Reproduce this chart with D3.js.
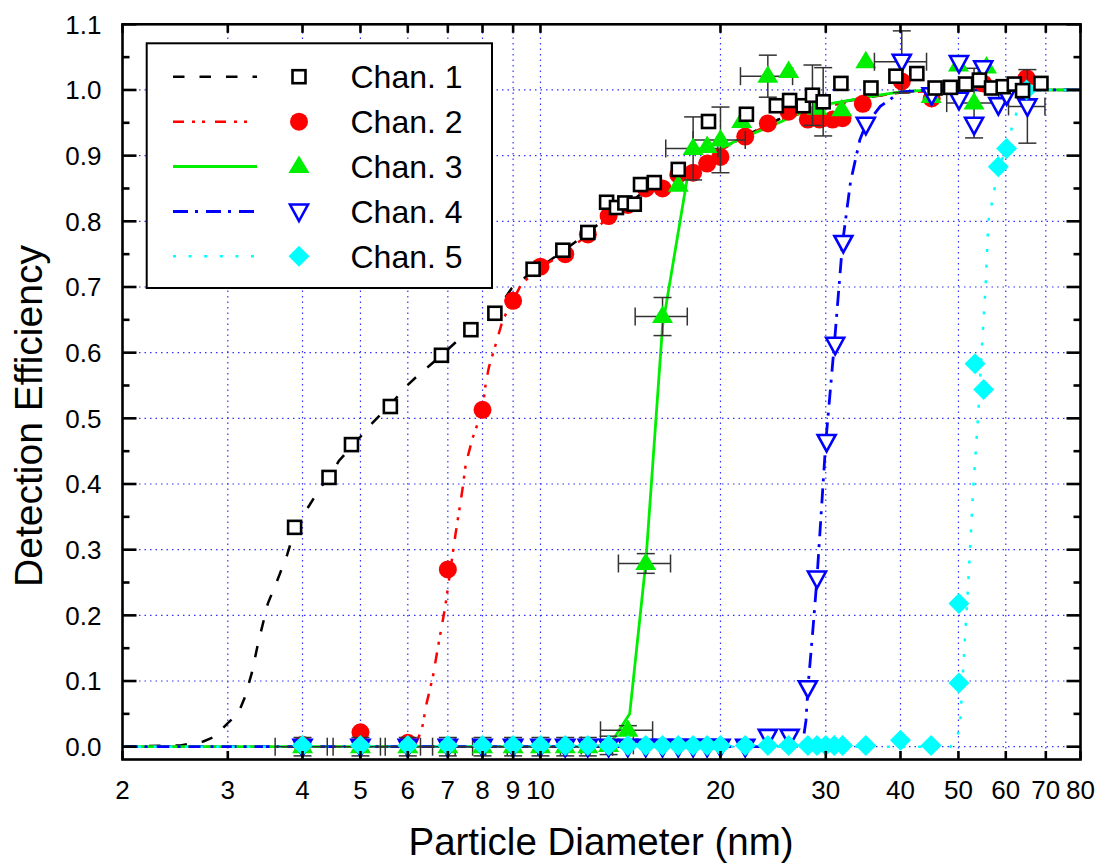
<!DOCTYPE html>
<html><head><meta charset="utf-8">
<script src="https://cdn.jsdelivr.net/npm/d3@7"></script>
<style>body{margin:0;background:#fff} svg{display:block} text{font-family:"Liberation Sans",Arial,sans-serif;fill:#000}</style>
</head><body><svg id="c" width="1099" height="865"></svg>
<script>
// ---------- data ----------
const xTickVals = [2,3,4,5,6,7,8,9,10,20,30,40,50,60,70,80];
const xGridVals = [3,4,5,6,7,8,9,10,20,30,40,50,60,70];
const yTickVals = [0,0.1,0.2,0.3,0.4,0.5,0.6,0.7,0.8,0.9,1.0,1.1];
const legendLabels = ["Chan. 1","Chan. 2","Chan. 3","Chan. 4","Chan. 5"];

// Chan. 1 (open squares)
const ch1X = [3.88,4.43,4.83,5.61,6.83,7.65,8.39,9.72,10.9,12.0,12.9,13.4,13.84,14.35,14.7,15.5,17.0,19.1,22.1,24.8,26.1,27.5,28.5,29.7,31.8,35.7,39.3,42.6,45.7,48.5,51.4,54.2,56.8,59.4,62.0,64.0,68.7];
const ch1Y = [0.334,0.410,0.460,0.518,0.596,0.635,0.660,0.727,0.756,0.783,0.829,0.821,0.828,0.826,0.856,0.859,0.879,0.952,0.963,0.976,0.984,0.976,0.992,0.982,1.010,1.003,1.021,1.025,1.003,1.004,1.009,1.015,1.003,1.005,1.009,0.999,1.010];
const ch1YErr = [0,0,0,0,0,0,0,0,0,0,0,0,0,0,0,0,0,0,0,0,0,0,0.046,0.052,0,0,0,0,0,0,0,0,0,0,0,0,0];

// Chan. 2 (filled circles)
const ch2X = [4,5,6,7,8,9,10,11,12,13,14,15,16,17,18,19,20,22,24,26,28,29.3,30.8,32,34.6,40.2,45.1,55,65];
const ch2Y = [0.003,0.022,0.006,0.270,0.513,0.679,0.731,0.750,0.780,0.808,0.825,0.850,0.850,0.871,0.874,0.888,0.898,0.929,0.949,0.967,0.955,0.955,0.955,0.957,0.979,1.013,0.987,1.010,1.018];

// Chan. 3 (filled triangles)
const ch3X = [4,5,6,7,8,9,10,11,12,13,14,15,16,17,18,19,20,21.7,24,26,29,31.9,35,45,50,53.1,55.7];
const ch3Y = [0,0,0,0,0,0,0,0,0,0.002,0.025,0.279,0.655,0.855,0.911,0.914,0.924,0.952,1.021,1.028,0.972,0.970,1.043,0.990,1.038,0.980,1.035];
const ch3XErr = [0.1,0.1,0.1,0.1,0.1,0.1,0.1,0.1,0.1,0.1,0.1,0.1,0.1,0,0.1,0,0.1,0,0.1,0,0,0,0,0,0,0.1,0];
const ch3YErr = [0.014,0.014,0.014,0.014,0.014,0.014,0.014,0.014,0.014,0.014,0.007,0.015,0.029,0,0.048,0,0.05,0,0.032,0,0,0,0,0,0,0.053,0];

// Chan. 4 (open inverted triangles)
const ch4X = [4,5,6,7,8,9,10,11,12,13,14,15,16,17,18,19,20,22,24,26.1,28,29,30.1,31.1,32.1,35,40.2,45.1,50.1,50.1,53.1,55,58.3,60.2,65.2];
const ch4Y = [0,0,0,0,0,0,0,0,0,0,0,0,0,0,0,0,0,0,0.015,0.015,0.089,0.256,0.464,0.612,0.767,0.947,1.043,0.992,1.041,0.985,0.947,1.033,0.977,0.992,0.975];
const ch4XErr = [0,0,0,0,0,0,0,0,0,0,0,0,0,0,0,0,0,0,0,0,0,0,0,0,0,0,0.1,0,0,0,0,0,0,0,0.07];
const ch4YErr = [0,0,0,0,0,0,0,0,0,0,0,0,0,0,0,0,0,0,0,0,0,0,0,0,0,0,0.047,0,0,0,0,0,0,0,0.056];

// Chan. 5 (filled diamonds)
const ch5X = [4,5,6,7,8,9,10,11,12,13,14,15,16,17,18,19,20,22,24,26,28,29,30,31,32,35,40,45,50.1,50.1,53.3,55.1,58.3,60.2,65];
const ch5Y = [0.002,0.002,0.002,0.002,0.002,0.002,0.002,0.002,0.002,0.002,0.002,0.002,0.002,0.002,0.002,0.002,0.002,0.002,0.002,0.002,0.002,0.002,0.002,0.002,0.002,0.002,0.010,0.002,0.097,0.218,0.583,0.544,0.883,0.911,1.0];

// Fitted curves
const fit1X = [2,2.5,2.73,2.85,3.0,3.12,3.2,3.29,3.37,3.5,3.64,3.77,3.88,4.01,4.11,4.28,4.43,4.6,5.0,5.16,5.6,6.0,6.2,6.83,7.4,7.65,8.39,8.95,9.3,10,11,12,13,14,15,16,17,18,20,22,25,28,32,36,40,50,80];
const fit1Y = [0,0.002,0.008,0.015,0.036,0.05,0.074,0.112,0.157,0.218,0.256,0.292,0.33,0.353,0.368,0.394,0.41,0.435,0.472,0.487,0.52,0.551,0.563,0.596,0.625,0.635,0.66,0.698,0.711,0.73,0.757,0.783,0.808,0.826,0.848,0.86,0.873,0.885,0.91,0.93,0.955,0.97,0.982,0.99,0.996,1.0,1.0];
const fit2X = [2,6.15,6.33,6.45,6.61,6.74,6.93,7.2,7.4,7.5,7.7,8.0,8.1,8.2,8.4,8.65,9.0,9.3,10,11,12,13,14,15,16,17,18,20,22,25,28,32,36,40,50,80];
const fit2Y = [0,0,0.025,0.066,0.107,0.152,0.213,0.32,0.39,0.43,0.47,0.513,0.554,0.578,0.61,0.65,0.68,0.705,0.73,0.752,0.78,0.805,0.825,0.845,0.858,0.87,0.883,0.908,0.93,0.953,0.968,0.98,0.99,0.996,1.0,1.0];
const fit3X = [2,13.0,14.1,15,16,17.6,20,22,24.6,27.2,30,32.3,36.8,40,45,80];
const fit3Y = [0,0,0.05,0.28,0.64,0.866,0.911,0.929,0.947,0.965,0.978,0.983,0.992,0.997,1.0,1.0];
const fit4X = [2,27.4,27.8,28.0,28.5,29.0,30.0,31.0,32.0,33.0,34.2,35.0,37,40,45,80];
const fit4Y = [0,0,0.04,0.089,0.17,0.256,0.464,0.612,0.767,0.86,0.924,0.947,0.975,0.997,1.0,1.0];
const fit5X = [2,48.5,49.5,50.3,51.0,51.9,52.9,54.0,54.7,55.5,56.1,57.4,58.3,60.2,61.4,62.6,64.6,67,80];
const fit5Y = [0,0,0.01,0.03,0.13,0.246,0.39,0.511,0.606,0.70,0.80,0.847,0.882,0.91,0.942,0.967,0.99,1.0,1.0];

// ---------- drawing ----------
const svg = d3.select("#c");
const X0 = 122.5, X1 = 1080.5, Y0 = 759.5, Y1 = 24.3;
const xs = d3.scaleLog().domain([2,80]).range([X0,X1]);
const ys = d3.scaleLinear().domain([-0.0195,1.1]).range([Y0,Y1]);

// grid
const grid = svg.append("g").attr("stroke","#3333ff").attr("stroke-width",1.2).attr("stroke-dasharray","1.5,4");
xGridVals.forEach(v=>grid.append("line").attr("x1",xs(v)).attr("x2",xs(v)).attr("y1",Y0).attr("y2",Y1));
yTickVals.slice(0,-1).forEach(v=>grid.append("line").attr("x1",X0).attr("x2",X1).attr("y1",ys(v)).attr("y2",ys(v)));

const styles = [
  {color:"#000000", dash:"11.5,15", w:2.5},
  {color:"#ff0000", dash:"11,8,3,7,3,10", w:2.5},
  {color:"#00ee00", dash:null, w:2.8},
  {color:"#0000ff", dash:"15,7,3,8", w:2.8},
  {color:"#00ffff", dash:"3,12.6", w:2.5}
];
const fits = [[fit1X,fit1Y],[fit2X,fit2Y],[fit3X,fit3Y],[fit4X,fit4Y],[fit5X,fit5Y]];
const line = d3.line().x(d=>xs(d[0])).y(d=>ys(d[1]));
fits.forEach((f,i)=>{
  const pts = f[0].map((x,j)=>[x,f[1][j]]);
  const p = svg.append("path").datum(pts).attr("d",line).attr("fill","none")
    .attr("stroke",styles[i].color).attr("stroke-width",styles[i].w);
  if (styles[i].dash) p.attr("stroke-dasharray",styles[i].dash);
});

// marker shapes
function drawMarker(g, type, cx, cy){
  if (type===0) g.append("rect").attr("x",cx-6.5).attr("y",cy-6.5).attr("width",13).attr("height",13)
      .attr("fill","#fff").attr("stroke","#000").attr("stroke-width",2.6);
  else if (type===1) g.append("circle").attr("cx",cx).attr("cy",cy).attr("r",9).attr("fill","#ff0000");
  else if (type===2) g.append("path").attr("d",`M${cx},${cy-11}L${cx+10.5},${cy+6.5}L${cx-10.5},${cy+6.5}Z`).attr("fill","#00ee00");
  else if (type===3) g.append("path").attr("d",`M${cx},${cy+9.5}L${cx+9},${cy-7}L${cx-9},${cy-7}Z`)
      .attr("fill","#fff").attr("stroke","#0000ff").attr("stroke-width",2.6).attr("stroke-linejoin","miter");
  else g.append("path").attr("d",`M${cx},${cy-10.5}L${cx+10.5},${cy}L${cx},${cy+10.5}L${cx-10.5},${cy}Z`).attr("fill","#00ffff");
}
function drawErr(g, xArr, yArr, xe, ye){
  const cap = 9;
  xArr.forEach((d,i)=>{
    const cx = xs(d), cy = ys(yArr[i]);
    if (xe && xe[i]>0){
      const a = xs(d*(1-xe[i])), b = xs(d*(1+xe[i]));
      g.append("line").attr("x1",a).attr("x2",b).attr("y1",cy).attr("y2",cy);
      g.append("line").attr("x1",a).attr("x2",a).attr("y1",cy-cap).attr("y2",cy+cap);
      g.append("line").attr("x1",b).attr("x2",b).attr("y1",cy-cap).attr("y2",cy+cap);
    }
    if (ye && ye[i]>0){
      const a = ys(yArr[i]-ye[i]), b = ys(yArr[i]+ye[i]);
      g.append("line").attr("x1",cx).attr("x2",cx).attr("y1",a).attr("y2",b);
      g.append("line").attr("x1",cx-cap).attr("x2",cx+cap).attr("y1",a).attr("y2",a);
      g.append("line").attr("x1",cx-cap).attr("x2",cx+cap).attr("y1",b).attr("y2",b);
    }
  });
}
const series = [
  {t:1, x:ch2X, y:ch2Y},
  {t:2, x:ch3X, y:ch3Y, xe:ch3XErr, ye:ch3YErr},
  {t:3, x:ch4X, y:ch4Y, xe:ch4XErr, ye:ch4YErr},
  {t:4, x:ch5X, y:ch5Y},
  {t:0, x:ch1X, y:ch1Y, ye:ch1YErr}
];
series.forEach(s=>{
  const eg = svg.append("g").attr("stroke","#333").attr("stroke-width",1.5);
  drawErr(eg, s.x, s.y, s.xe, s.ye);
  const mg = svg.append("g");
  s.x.forEach((d,i)=>drawMarker(mg, s.t, xs(d), ys(s.y[i])));
});

// frame and ticks
const ax = svg.append("g").attr("stroke","#000").attr("stroke-width",2.6);
ax.append("rect").attr("x",X0).attr("y",Y1).attr("width",X1-X0).attr("height",Y0-Y1).attr("fill","none");
xTickVals.forEach(v=>{
  ax.append("line").attr("x1",xs(v)).attr("x2",xs(v)).attr("y1",Y0).attr("y2",Y0-8.5);
  ax.append("line").attr("x1",xs(v)).attr("x2",xs(v)).attr("y1",Y1).attr("y2",Y1+8.5);
});
yTickVals.forEach(v=>{
  ax.append("line").attr("x1",X0).attr("x2",X0+14).attr("y1",ys(v)).attr("y2",ys(v));
  ax.append("line").attr("x1",X1).attr("x2",X1-14).attr("y1",ys(v)).attr("y2",ys(v));
  if (v<1.05){
    const m = ys(v+0.05);
    ax.append("line").attr("x1",X0).attr("x2",X0+7).attr("y1",m).attr("y2",m);
    ax.append("line").attr("x1",X1).attr("x2",X1-7).attr("y1",m).attr("y2",m);
  }
});
// tick labels
svg.append("g").selectAll("text").data(xTickVals).join("text")
  .attr("x",d=>xs(d)).attr("y",798.5).attr("text-anchor","middle").attr("font-size",26).text(d=>d);
svg.append("g").selectAll("text").data(yTickVals).join("text")
  .attr("x",101.5).attr("y",d=>ys(d)+9.3).attr("text-anchor","end").attr("font-size",26).text(d=>d.toFixed(1));
// axis titles
svg.append("text").attr("x",601).attr("y",855).attr("text-anchor","middle").attr("font-size",38.5).text("Particle Diameter (nm)");
svg.append("text").attr("transform","translate(42,416) rotate(-90)").attr("text-anchor","middle").attr("font-size",39).text("Detection Efficiency");

// legend
const lg = svg.append("g");
lg.append("rect").attr("x",146.7).attr("y",43.3).attr("width",345.3).attr("height",244.7)
  .attr("fill","#fff").attr("stroke","#000").attr("stroke-width",2);
const rowY = [76.7,121.7,166.5,211.5,256.3];
const legTypes = [0,1,2,3,4];
legendLabels.forEach((lab,i)=>{
  const y = rowY[i];
  const l = lg.append("line").attr("x1",173).attr("x2",257).attr("y1",y).attr("y2",y)
    .attr("stroke",styles[i].color).attr("stroke-width",styles[i].w);
  if (styles[i].dash) l.attr("stroke-dasharray",styles[i].dash);
  drawMarker(lg, legTypes[i], 299, y);
  lg.append("text").attr("x",350.5).attr("y",y+11.5).attr("font-size",32).text(lab);
});
</script></body></html>
